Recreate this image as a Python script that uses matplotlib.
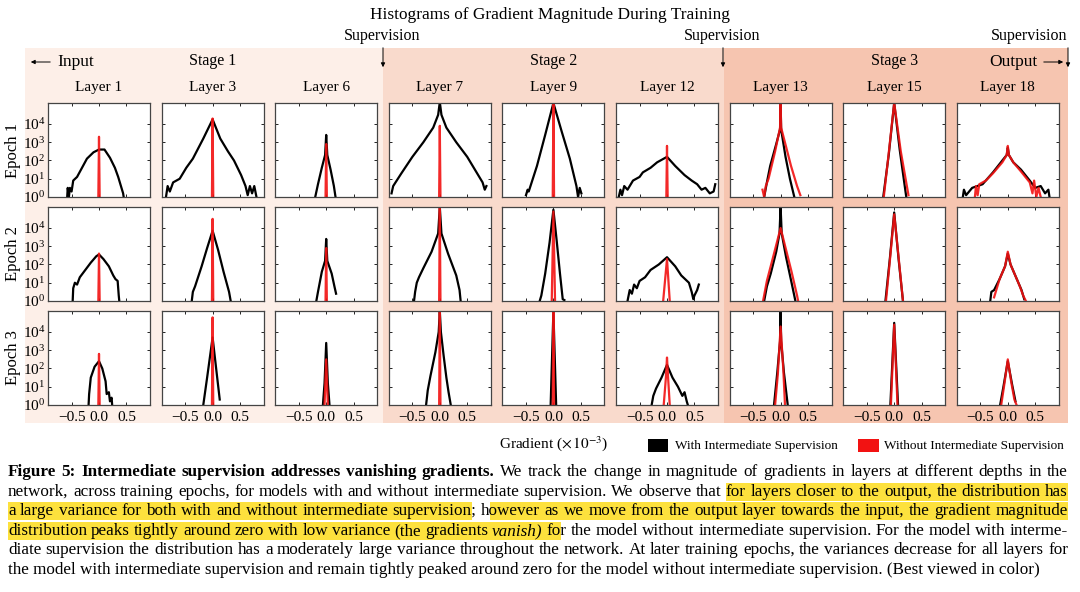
import matplotlib
matplotlib.use("Agg")
import matplotlib.pyplot as plt
from matplotlib.patches import Rectangle, FancyArrowPatch
from matplotlib.ticker import NullLocator

plt.rcParams["font.family"] = "Liberation Serif"
plt.rcParams["mathtext.fontset"] = "stix"

#%% data (gradient in units of 1e-3, count as log10)

layers = ["Layer 1", "Layer 3", "Layer 6", "Layer 7", "Layer 9", "Layer 12",
          "Layer 13", "Layer 15", "Layer 18"]
epochs = ["Epoch 1", "Epoch 2", "Epoch 3"]
stages = ["Stage 1", "Stage 2", "Stage 3"]
ytick_vals = [1, 10, 100, 1e3, 1e4]
xtick_vals = [-0.5, 0.0, 0.5]
xtick_labels = ["\u22120.5", "0.0", "0.5"]
legend_labels = ["With Intermediate Supervision", "Without Intermediate Supervision"]

# epoch 1, with intermediate supervision (black)
e1_black = [
    [(-0.58, 0), (-0.57, 0.5), (-0.55, 0), (-0.53, 0.5), (-0.5, 0.3), (-0.47, 0.9), (-0.4, 1.1),
     (-0.31, 1.6), (-0.22, 2.1), (-0.1, 2.45), (0, 2.6), (0.1, 2.6), (0.2, 2.15), (0.29, 1.6),
     (0.35, 1.1), (0.4, 0.6), (0.44, 0.2), (0.45, 0)],
    [(-0.85, 0), (-0.82, 0.6), (-0.78, 0.3), (-0.72, 0.8), (-0.6, 1.0), (-0.48, 1.6), (-0.36, 2.1),
     (-0.17, 3.2), (0, 4.25), (0.14, 3.2), (0.28, 2.5), (0.39, 2.0), (0.52, 1.2), (0.6, 0.6),
     (0.64, 0.1), (0.68, 0.6), (0.72, 0.2), (0.76, 0.6), (0.8, 0)],
    [(-0.2, 0), (-0.15, 0.7), (-0.08, 1.6), (-0.02, 2.3), (0, 3.4), (0.02, 2.3), (0.08, 1.5),
     (0.14, 0.6), (0.17, 0)],
    [(-0.88, 0.2), (-0.85, 0.6), (-0.7, 1.3), (-0.5, 2.2), (-0.3, 3.0), (-0.12, 3.8), (-0.03, 4.5),
     (0, 5.2), (0.03, 4.5), (0.12, 3.8), (0.3, 3.0), (0.5, 2.2), (0.7, 1.2), (0.78, 0.8),
     (0.82, 0.4), (0.85, 0.6)],
    [(-0.5, 0.1), (-0.47, 0.4), (-0.45, 0.3), (-0.3, 1.7), (-0.15, 3.4), (0, 5.15), (0.15, 3.6),
     (0.3, 2.1), (0.42, 0.6), (0.45, 0), (0.48, 0.5), (0.51, 0.2)],
    [(-0.88, 0), (-0.85, 0.4), (-0.82, 0.1), (-0.78, 0.6), (-0.72, 0.4), (-0.62, 0.9), (-0.5, 1.1),
     (-0.44, 1.35), (-0.3, 1.6), (-0.18, 1.9), (0, 2.2), (0.15, 1.7), (0.32, 1.2), (0.45, 0.9),
     (0.55, 0.7), (0.63, 0.4), (0.7, 0.5), (0.78, 0.2), (0.85, 0.3), (0.88, 0.7)],
    [(-0.3, 0), (-0.25, 0.8), (-0.19, 1.7), (-0.08, 2.9), (-0.01, 3.7), (0, 5.15), (0.01, 3.7),
     (0.09, 2.2), (0.17, 1.0), (0.25, 0)],
    [(-0.2, 0), (-0.1, 2.3), (0, 5.15), (0.1, 2.6), (0.22, 0)],
    [(-0.82, 0), (-0.8, 0.4), (-0.76, 0.1), (-0.65, 0.5), (-0.46, 0.7), (-0.27, 1.35), (-0.1, 2.0),
     (-0.02, 2.3), (0, 2.7), (0.02, 2.3), (0.1, 1.9), (0.24, 1.5), (0.4, 0.9), (0.5, 0.5),
     (0.6, 0.6), (0.68, 0.2), (0.74, 0.4), (0.76, 0)],
]
# epoch 1, without intermediate supervision (red)
e1_red = [
    [(-0.012, 0), (0, 3.3), (0.012, 0)],
    [(-0.012, 0), (0, 4.3), (0.012, 0)],
    [(-0.012, 0), (0, 2.9), (0.012, 0)],
    [(-0.012, 0), (0, 3.9), (0.012, 0)],
    [(-0.012, 0), (0, 5.15), (0.012, 0)],
    [(-0.012, 0), (0, 2.8), (0.012, 0)],
    [(-0.33, 0.4), (-0.3, 0), (-0.27, 0.6), (-0.22, 1.0), (-0.1, 2.5), (-0.01, 3.8), (0, 5.15),
     (0.01, 3.8), (0.19, 1.7), (0.3, 0.6), (0.36, 0.1)],
    [(-0.19, 0), (-0.1, 2.4), (0, 5.15), (0.12, 2.5), (0.26, 0.1)],
    [(-0.6, 0), (-0.58, 0.6), (-0.55, 0.1), (-0.52, 0.7), (-0.4, 0.9), (-0.27, 1.3), (-0.1, 1.9),
     (-0.02, 2.3), (0, 2.8), (0.02, 2.3), (0.1, 1.9), (0.24, 1.4), (0.4, 0.8), (0.45, 0.2),
     (0.48, 0.9), (0.52, 0), (0.56, 0.5), (0.6, 0)],
]

e2_black = [
    [(-0.48, 0), (-0.47, 0.7), (-0.44, 1.0), (-0.4, 0.9), (-0.35, 1.3), (-0.25, 1.7), (-0.15, 2.1),
     (-0.05, 2.45), (0, 2.55), (0.08, 2.3), (0.18, 1.9), (0.26, 1.4), (0.3, 1.2), (0.34, 1.1),
     (0.36, 0.3), (0.37, 0)],
    [(-0.38, 0), (-0.36, 0.5), (-0.32, 0.8), (-0.2, 1.9), (-0.1, 2.9), (0, 3.85), (0.1, 2.8),
     (0.2, 1.6), (0.3, 0.5), (0.33, 0)],
    [(-0.18, 0), (-0.15, 0.5), (-0.08, 1.6), (-0.02, 2.2), (0, 3.4), (0.02, 2.2), (0.1, 1.5),
     (0.15, 0.8), (0.18, 0.4)],
    [(-0.47, 0), (-0.45, 0.5), (-0.42, 1.0), (-0.38, 1.3), (-0.3, 1.8), (-0.15, 2.7), (-0.03, 3.7),
     (0, 5.15), (0.03, 3.7), (0.15, 2.6), (0.3, 1.4), (0.36, 0.6), (0.38, 0)],
    [(-0.25, 0), (-0.22, 0.3), (-0.15, 1.5), (-0.07, 3.2), (0, 5.0), (0.06, 3.3), (0.12, 1.5),
     (0.17, 0.1), (0.2, 0.05)],
    [(-0.72, 0), (-0.68, 0.6), (-0.64, 0.4), (-0.6, 0.9), (-0.55, 0.7), (-0.5, 1.1), (-0.4, 1.3),
     (-0.3, 1.7), (-0.15, 2.0), (0, 2.4), (0.15, 1.9), (0.26, 1.4), (0.4, 1.0), (0.45, 0.5),
     (0.48, 0.1), (0.5, 0.3), (0.55, 0.6), (0.58, 0.9)],
    [(-0.3, 0), (-0.25, 0.8), (-0.18, 1.5), (-0.08, 2.7), (-0.02, 3.7), (0, 5.15), (0.02, 3.7),
     (0.1, 2.4), (0.2, 1.0), (0.27, 0)],
    [(-0.16, 0), (-0.08, 2.3), (0, 4.85), (0.08, 2.3), (0.16, 0)],
    [(-0.32, 0), (-0.3, 0.5), (-0.25, 0.6), (-0.15, 1.2), (-0.05, 1.9), (0, 2.6), (0.05, 2.0),
     (0.15, 1.3), (0.25, 0.6), (0.3, 0.1)],
]
e2_red = [
    [(-0.012, 0), (0, 2.6), (0.012, 0)],
    [(-0.012, 0), (0, 4.5), (0.012, 0)],
    [(-0.012, 0), (0, 2.9), (0.012, 0)],
    [(-0.012, 0), (0, 5.1), (0.012, 0)],
    [(-0.03, 0), (0, 4.9), (0.03, 0)],
    [(-0.07, 0), (0, 2.3), (0.05, 0)],
    [(-0.32, 0), (-0.25, 1.1), (-0.12, 2.6), (0, 4.0), (0.1, 2.8), (0.2, 1.6), (0.3, 0.3),
     (0.32, 0)],
    [(-0.15, 0), (-0.07, 2.5), (0, 4.75), (0.08, 2.4), (0.16, 0)],
    [(-0.25, 0.2), (-0.15, 1.2), (-0.05, 1.9), (0, 2.7), (0.05, 2.0), (0.15, 1.3), (0.22, 0.8),
     (0.28, 0.3), (0.33, 0)],
]

e3_black = [
    [(-0.19, 0), (-0.18, 0.6), (-0.15, 1.5), (-0.08, 2.1), (0, 2.4), (0.06, 2.0), (0.12, 1.3),
     (0.14, 0.6), (0.18, 0.7), (0.2, 0.2), (0.23, 0.4), (0.24, 0)],
    [(-0.17, 0), (-0.1, 1.5), (0, 3.7), (0.08, 1.6), (0.13, 0.3)],
    [(-0.06, 0), (-0.03, 1.2), (0, 3.4), (0.03, 1.2), (0.06, 0)],
    [(-0.25, 0), (-0.22, 0.8), (-0.17, 1.6), (-0.08, 2.9), (-0.02, 4.0), (0, 5.15), (0.02, 4.0),
     (0.07, 2.7), (0.12, 1.5), (0.16, 0.7), (0.2, 0)],
    [(-0.05, 0), (0, 5.15), (0.05, 0)],
    [(-0.28, 0), (-0.25, 0.5), (-0.2, 0.9), (-0.1, 1.5), (0, 2.2), (0.1, 1.5), (0.2, 1.0),
     (0.28, 0.5), (0.32, 0.7), (0.36, 0.2), (0.38, 0)],
    [(-0.12, 0), (-0.06, 1.8), (-0.01, 3.5), (0, 5.15), (0.01, 3.5), (0.06, 1.8), (0.13, 0)],
    [(-0.07, 0), (0, 4.5), (0.07, 0)],
    [(-0.14, 0), (-0.08, 1.0), (0, 2.4), (0.08, 1.1), (0.14, 0.2)],
]
e3_red = [
    [(-0.012, 0), (0, 2.8), (0.012, 0)],
    [(-0.012, 0), (0, 4.8), (0.012, 0)],
    [(-0.03, 0), (0, 2.5), (0.03, 0)],
    [(-0.012, 0), (0, 5.15), (0.012, 0)],
    [(-0.012, 0), (0, 5.15), (0.012, 0)],
    [(-0.06, 0), (-0.02, 1.5), (0, 2.6), (0.02, 1.5), (0.05, 0)],
    [(-0.1, 0), (-0.05, 1.7), (0, 4.3), (0.05, 1.9), (0.08, 0)],
    [(-0.06, 0), (0, 4.4), (0.06, 0)],
    [(-0.12, 0), (-0.06, 1.2), (0, 2.5), (0.06, 1.3), (0.12, 0.3), (0.16, 0)],
]

# caption, (text, style, highlighted)
caption = [
    [("Figure 5: Intermediate supervision addresses vanishing gradients.", "b", 0),
     (" We track the change in magnitude of gradients in layers at different depths in the", "n", 0)],
    [("network, across training epochs, for models with and without intermediate supervision. We observe that", "n", 0),
     (" for layers closer to the output, the distribution has", "n", 1)],
    [("a large variance for both with and without intermediate supervision", "n", 1), (";", "n", 0),
     (" h", "n", 0), ("owever as we move from the output layer towards the input, the gradient magnitude", "n", 1)],
    [("distribution peaks tightly around zero with low variance (the gradients", "n", 1), (" vanish", "i", 1),
     (")", "i", 1), (" fo", "n", 1), ("r the model without intermediate supervision. For the model with interme-", "n", 0)],
    [("diate supervision the distribution has a moderately large variance throughout the network. At later training epochs, the variances decrease for all layers for", "n", 0)],
    [("the model with intermediate supervision and remain tightly peaked around zero for the model without intermediate supervision. (Best viewed in color)", "n", 0)],
]

#%% layout (pixel based)

W, H = 1080, 592
RED = "#f21212"
fig = plt.figure(figsize=(W / 100, H / 100), dpi=100)


def fx(x):
    return x / W


def fy(y):
    return 1 - y / H


def box(x0, y0, x1, y1, color, z=0):
    fig.add_artist(Rectangle((fx(x0), fy(y1)), (x1 - x0) / W, (y1 - y0) / H,
                             transform=fig.transFigure, facecolor=color, edgecolor="none", zorder=z))


def arrow(x0, y0, x1, y1):
    fig.add_artist(FancyArrowPatch((fx(x0), fy(y0)), (fx(x1), fy(y1)), transform=fig.transFigure,
                                   arrowstyle="-|>", mutation_scale=6, lw=0.7, color="black"))


# stage backgrounds
box(25, 48, 383, 423, "#fdefe8")
box(383, 48, 724, 423, "#f9dacc")
box(724, 48, 1068, 423, "#f6c5b0")

fig.text(fx(550), fy(15), "Histograms of Gradient Magnitude During Training", fontsize=12.4,
         ha="center", va="center")
for xs in (382, 722):
    fig.text(fx(xs), fy(36), "Supervision", fontsize=11.5, ha="center", va="center")
    arrow(xs + 1, 45, xs + 1, 70)
fig.text(fx(1067), fy(36), "Supervision", fontsize=11.5, ha="right", va="center")
arrow(1068, 45, 1068, 70)

fig.text(fx(57), fy(62), "Input", fontsize=12.5, ha="left", va="center")
arrow(53, 62, 28, 62)
fig.text(fx(1037), fy(62), "Output", fontsize=12.5, ha="right", va="center")
arrow(1041, 62, 1066, 62)

col_left = [48 + c * 113.6 for c in range(9)]
for k, s in enumerate(stages):
    fig.text(fx(col_left[3 * k + 1] + 51), fy(61), s, fontsize=11.5, ha="center", va="center")

rows_black = [e1_black, e2_black, e3_black]
rows_red = [e1_red, e2_red, e3_red]

for r in range(3):
    top = 103 + r * 104
    fig.text(fx(13), fy(top + 47), epochs[r], fontsize=12, rotation=90, ha="center", va="center")
    for c in range(9):
        left = col_left[c]
        ax = fig.add_axes([fx(left), fy(top + 94), 102 / W, 94 / H])
        for pts, col in ((rows_black[r][c], "black"), (rows_red[r][c], RED)):
            gx = [p[0] for p in pts]
            gy = [10 ** p[1] for p in pts]
            ax.plot(gx, gy, color=col, lw=1.6, alpha=0.9 if col == RED else 1)
        ax.set_yscale("log")
        ax.set_xlim(-0.93, 0.93)
        ax.set_ylim(1, 10 ** 5.15)
        ax.set_yticks(ytick_vals)
        ax.yaxis.set_minor_locator(NullLocator())
        ax.set_xticks(xtick_vals)
        ax.set_xticklabels(xtick_labels)
        ax.tick_params(direction="in", length=2.5, width=0.6, top=True, right=True,
                       labelsize=11, labelleft=(c == 0), labelbottom=(r == 2))
        ax.tick_params(axis="x", pad=4)
        ax.tick_params(axis="y", pad=2)
        for sp in ax.spines.values():
            sp.set_color("#444444")
            sp.set_linewidth(0.9)
        if r == 0:
            fig.text(fx(left + 51), fy(87), layers[c], fontsize=11, ha="center", va="center")

# x label + legend
fig.text(fx(554), fy(444), "Gradient ($\\times\\,10^{-3}$)", fontsize=11, ha="center", va="center")
box(648, 439, 668, 452, "black", 2)
fig.text(fx(675), fy(446), legend_labels[0], fontsize=9.5, ha="left", va="center")
box(858, 439, 879, 452, RED, 2)
fig.text(fx(884), fy(446), legend_labels[1], fontsize=9.5, ha="left", va="center")

#%% caption, justified word by word

renderer = fig.canvas.get_renderer()
FS = 12.3
X0, X1 = 8, 1068
line_y = [472, 492, 511, 531, 550, 570]


def make_text(s, st):
    return fig.text(0, 0, s, fontsize=FS, fontweight="bold" if st == "b" else "normal",
                    fontstyle="italic" if st == "i" else "normal", ha="left", va="baseline", zorder=3)


def advance(s, st):
    # width between pen positions, bearings included
    a = make_text("|" + s + "|", st)
    b = make_text("||", st)
    w = a.get_window_extent(renderer).width - b.get_window_extent(renderer).width
    a.remove()
    b.remove()
    return w


for li, segs in enumerate(caption):
    yc = line_y[li]
    if li == len(caption) - 1:
        # last line is not justified
        t = make_text("".join(s[0] for s in segs), segs[0][1])
        t.set_position((fx(X0), fy(yc + 4)))
        continue
    words = []
    for text, st, hl in segs:
        parts = text.split(" ")
        for k, part in enumerate(parts):
            if part == "":
                continue
            if k == 0 and words and not text.startswith(" "):
                words[-1].append([part, st, hl])
            else:
                words.append([[part, st, hl]])
    # one text object per word; highlight spans measured from prefixes
    items = []
    for wd in words:
        s = "".join(p[0] for p in wd)
        st = wd[0][1]
        spans = []
        prefix = ""
        for p in wd:
            a0 = advance(prefix, st) if prefix else 0.0
            prefix += p[0]
            spans.append([a0, advance(prefix, st), p[2]])
        items.append((make_text(s, st), spans[-1][1], spans))
    gap = (X1 - X0 - sum(it[1] for it in items)) / (len(items) - 1)
    x = X0
    placed = []
    for t, w, spans in items:
        t.set_position((fx(x), fy(yc + 4)))
        for a0, a1, hl in spans:
            placed.append([x + a0, x + a1, hl])
        x += w + gap
    for i, (xs, xe, hl) in enumerate(placed):
        if not hl:
            continue
        if i + 1 < len(placed) and placed[i + 1][2]:
            xe = placed[i + 1][0]
        box(xs, yc - 9.5, xe, yc + 8.5, "#fde13d", 1)

fig.savefig("out.png", dpi=100)
